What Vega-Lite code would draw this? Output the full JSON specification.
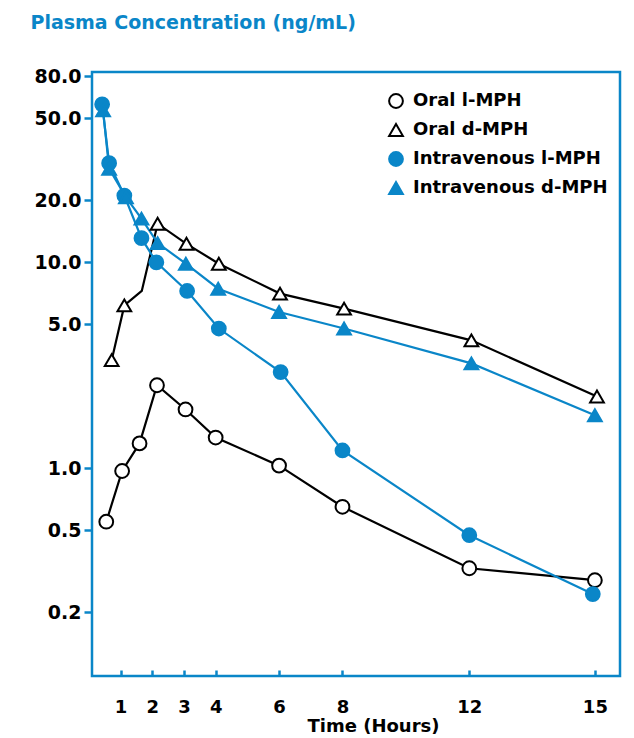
{
  "$schema": "https://vega.github.io/schema/vega-lite/v6.json",
  "width": 528,
  "height": 604,
  "autosize": "none",
  "padding": {"left": 92, "top": 72, "right": 14, "bottom": 62},
  "background": "white",
  "config": {
    "view": {"stroke": "#0a86c8", "strokeWidth": 2.5},
    "font": "DejaVu Sans",
    "legend": {
      "labelLimit": 320
    }
  },
  "data": {
    "values": [
      {"series": "Oral l-MPH", "time": 0.55, "conc": 0.55},
      {"series": "Oral l-MPH", "time": 1.05, "conc": 0.97},
      {"series": "Oral l-MPH", "time": 1.6, "conc": 1.32},
      {"series": "Oral l-MPH", "time": 2.15, "conc": 2.53},
      {"series": "Oral l-MPH", "time": 3.05, "conc": 1.93},
      {"series": "Oral l-MPH", "time": 4.0, "conc": 1.41},
      {"series": "Oral l-MPH", "time": 6.0, "conc": 1.03},
      {"series": "Oral l-MPH", "time": 8.0, "conc": 0.65},
      {"series": "Oral l-MPH", "time": 12.0, "conc": 0.327},
      {"series": "Oral l-MPH", "time": 15.0, "conc": 0.286},
      {"series": "Oral d-MPH", "time": 0.72, "conc": 3.35},
      {"series": "Oral d-MPH", "time": 1.12, "conc": 6.18},
      {"series": "Oral d-MPH", "time": 1.67, "conc": 7.26},
      {"series": "Oral d-MPH", "time": 2.17, "conc": 15.4},
      {"series": "Oral d-MPH", "time": 3.08, "conc": 12.3},
      {"series": "Oral d-MPH", "time": 4.1, "conc": 9.85},
      {"series": "Oral d-MPH", "time": 6.03, "conc": 7.05},
      {"series": "Oral d-MPH", "time": 8.05, "conc": 5.96},
      {"series": "Oral d-MPH", "time": 12.05, "conc": 4.18},
      {"series": "Oral d-MPH", "time": 15.05, "conc": 2.23},
      {"series": "Intravenous l-MPH", "time": 0.42, "conc": 58.5},
      {"series": "Intravenous l-MPH", "time": 0.64, "conc": 30.3},
      {"series": "Intravenous l-MPH", "time": 1.12, "conc": 21.1},
      {"series": "Intravenous l-MPH", "time": 1.66, "conc": 13.1},
      {"series": "Intravenous l-MPH", "time": 2.13, "conc": 10.0},
      {"series": "Intravenous l-MPH", "time": 3.1, "conc": 7.26},
      {"series": "Intravenous l-MPH", "time": 4.1, "conc": 4.77},
      {"series": "Intravenous l-MPH", "time": 6.05, "conc": 2.93},
      {"series": "Intravenous l-MPH", "time": 8.0, "conc": 1.22},
      {"series": "Intravenous l-MPH", "time": 12.0, "conc": 0.473},
      {"series": "Intravenous l-MPH", "time": 14.95, "conc": 0.245},
      {"series": "Intravenous d-MPH", "time": 0.45, "conc": 54.7},
      {"series": "Intravenous d-MPH", "time": 0.64, "conc": 28.5},
      {"series": "Intravenous d-MPH", "time": 1.17, "conc": 20.7},
      {"series": "Intravenous d-MPH", "time": 1.66, "conc": 16.3},
      {"series": "Intravenous d-MPH", "time": 2.17, "conc": 12.4},
      {"series": "Intravenous d-MPH", "time": 3.06, "conc": 9.85},
      {"series": "Intravenous d-MPH", "time": 4.08, "conc": 7.45},
      {"series": "Intravenous d-MPH", "time": 6.0, "conc": 5.74},
      {"series": "Intravenous d-MPH", "time": 8.05, "conc": 4.77},
      {"series": "Intravenous d-MPH", "time": 12.05, "conc": 3.23},
      {"series": "Intravenous d-MPH", "time": 15.0, "conc": 1.81}
    ]
  },
  "layer": [
    {
      "mark": {"type": "line", "strokeWidth": 2.2},
      "encoding": {
        "x": {
          "field": "time",
          "type": "quantitative",
          "scale": {"type": "linear", "domain": [0.1, 12, 15.6], "range": [0, 377.3, 528], "nice": false, "zero": false},
          "axis": {
            "title": "Time (Hours)",
            "values": [1, 2, 3, 4, 6, 8, 12, 15],
            "format": "d",
            "grid": false,
            "domain": false,
            "tickColor": "#0a86c8",
            "tickWidth": 2.5,
            "tickSize": -6,
            "labelPadding": 28,
            "labelFont": "DejaVu Sans",
            "labelFontWeight": "bold",
            "labelFontSize": 18,
            "labelColor": "#000000",
            "titleFont": "DejaVu Sans",
            "titleFontWeight": "bold",
            "titleFontSize": 18,
            "titleColor": "#000000",
            "titleX": 281,
            "titleY": 55,
            "titleBaseline": "alphabetic",
            "titleAlign": "center"
          }
        },
        "y": {
          "field": "conc",
          "type": "quantitative",
          "scale": {"type": "log", "domain": [0.098, 84], "nice": false},
          "axis": {
            "title": "Plasma Concentration (ng/mL)",
            "values": [0.2, 0.5, 1, 5, 10, 20, 50, 80],
            "format": ".1f",
            "grid": false,
            "domain": false,
            "tickColor": "#0a86c8",
            "tickWidth": 2.5,
            "tickSize": 8,
            "labelPadding": 3,
            "labelFont": "DejaVu Sans",
            "labelFontWeight": "bold",
            "labelFontSize": 19,
            "labelColor": "#000000",
            "titleFont": "DejaVu Sans",
            "titleFontWeight": "bold",
            "titleFontSize": 19,
            "titleColor": "#0a86c8",
            "titleAngle": 0,
            "titleX": -62,
            "titleY": -44,
            "titleAlign": "left",
            "titleBaseline": "alphabetic"
          }
        },
        "detail": {"field": "series", "type": "nominal"},
        "color": {
          "field": "series",
          "type": "nominal",
          "scale": {"range": ["#0a86c8", "#0a86c8", "#000000", "#000000"]},
          "legend": null
        },
        "order": {"field": "time", "type": "quantitative"}
      }
    },
    {
      "transform": [{"filter": "!(datum.series == 'Oral d-MPH' && datum.time == 1.67)"}],
      "mark": {"type": "point", "filled": false, "strokeWidth": 2, "size": 190, "opacity": 1},
      "encoding": {
        "x": {"field": "time", "type": "quantitative"},
        "y": {"field": "conc", "type": "quantitative"},
        "shape": {
          "field": "series",
          "type": "nominal",
          "scale": {"domain": ["Oral l-MPH", "Oral d-MPH", "Intravenous l-MPH", "Intravenous d-MPH"], "range": ["circle", "triangle-up", "circle", "triangle-up"]},
          "legend": {
            "title": null,
            "orient": "none",
            "legendX": 295,
            "legendY": 20,
            "padding": 0,
            "labelFont": "DejaVu Sans",
            "labelFontWeight": "bold",
            "labelFontSize": 18,
            "labelColor": "#000000",
            "labelOffset": 8,
            "labelLimit": 320,
            "rowPadding": 8,
            "symbolSize": 190,
            "symbolStrokeWidth": 2
          }
        },
        "fill": {
          "field": "series",
          "type": "nominal",
          "scale": {"domain": ["Oral l-MPH", "Oral d-MPH", "Intravenous l-MPH", "Intravenous d-MPH"], "range": ["#ffffff", "#ffffff", "#0a86c8", "#0a86c8"]},
          "legend": {
            "title": null,
            "orient": "none",
            "legendX": 295,
            "legendY": 20,
            "padding": 0,
            "labelFont": "DejaVu Sans",
            "labelFontWeight": "bold",
            "labelFontSize": 18,
            "labelColor": "#000000",
            "labelOffset": 8,
            "labelLimit": 320,
            "rowPadding": 8,
            "symbolSize": 190,
            "symbolStrokeWidth": 2
          }
        },
        "stroke": {
          "field": "series",
          "type": "nominal",
          "scale": {"domain": ["Oral l-MPH", "Oral d-MPH", "Intravenous l-MPH", "Intravenous d-MPH"], "range": ["#000000", "#000000", "#0a86c8", "#0a86c8"]},
          "legend": {
            "title": null,
            "orient": "none",
            "legendX": 295,
            "legendY": 20,
            "padding": 0,
            "labelFont": "DejaVu Sans",
            "labelFontWeight": "bold",
            "labelFontSize": 18,
            "labelColor": "#000000",
            "labelOffset": 8,
            "labelLimit": 320,
            "rowPadding": 8,
            "symbolSize": 190,
            "symbolStrokeWidth": 2
          }
        }
      }
    }
  ]
}
